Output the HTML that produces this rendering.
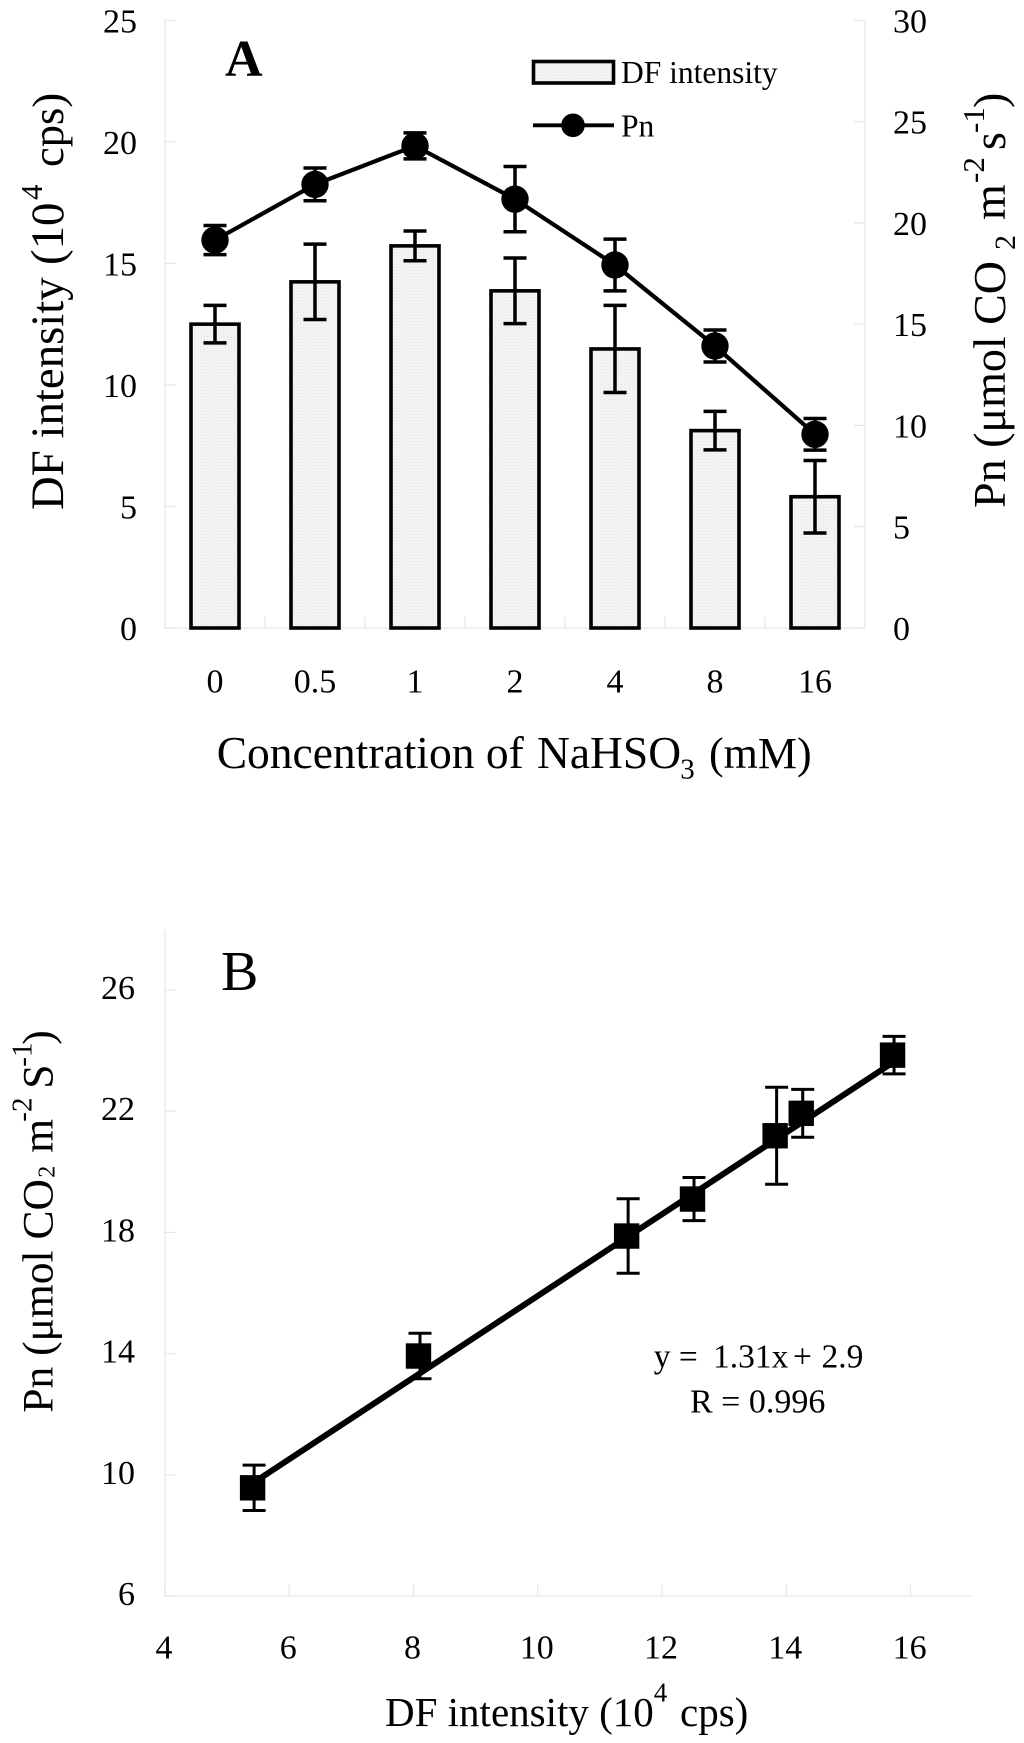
<!DOCTYPE html>
<html lang="en">
<head>
<meta charset="utf-8">
<title>DF intensity and Pn versus NaHSO3 concentration</title>
<style>
html,body{margin:0;padding:0;background:#fff;}
svg{display:block;filter:blur(0.35px);}
text{font-family:"Liberation Serif","Times New Roman",serif;fill:#000;}
</style>
</head>
<body>
<svg id="figure" xmlns="http://www.w3.org/2000/svg" width="1024" height="1743" viewBox="0 0 1024 1743">
  <defs>
    <pattern id="dots" width="3" height="3" patternUnits="userSpaceOnUse">
      <rect width="3" height="3" fill="#f3f3f3"/>
      <rect width="1" height="1" fill="#e6e6e6"/>
    </pattern>
  </defs>
  <g id="panelA">
    <text x="225" y="76" font-size="52" font-weight="bold">A</text>
    <text font-size="45.5" y="768"><tspan x="216.7">Concentration of</tspan><tspan x="537">NaHSO</tspan><tspan x="680.3" y="778.3" font-size="29">3</tspan><tspan x="709" y="768" font-size="44">(mM)</tspan></text>
    <text font-size="46.8" transform="translate(63,510) rotate(-90)" y="0"><tspan x="0">DF intensity</tspan><tspan x="245">(10</tspan><tspan x="310" y="-21" font-size="31">4</tspan><tspan x="343" y="0" font-size="44.5">cps)</tspan></text>
    <text font-size="46" transform="translate(1005,508) rotate(-90)" y="0"><tspan x="0">Pn (μmol CO</tspan><tspan x="258" y="10" font-size="30">2</tspan><tspan x="288" y="0">m</tspan><tspan x="325" y="-21" font-size="31">-2</tspan><tspan x="358" y="0">s</tspan><tspan x="375" y="-21" font-size="31">-1</tspan><tspan x="400" y="0">)</tspan></text>
    <g>
      <rect x="533.5" y="61.5" width="80" height="21.5" fill="url(#dots)" stroke="#000" stroke-width="3.6"/>
      <text x="621" y="83" font-size="31.5">DF intensity</text>
      <line x1="533" y1="125.3" x2="614" y2="125.3" stroke="#000" stroke-width="3.8"/>
      <circle cx="573" cy="125.3" r="11.8" fill="#000"/>
      <text x="621" y="136.7" font-size="31.5">Pn</text>
    </g>
  </g>
  <g id="panelB">
    <text x="221" y="990" font-size="56">B</text>
    <text font-size="41" y="1726"><tspan x="385">DF intensity (10</tspan><tspan x="653.7" y="1701.7" font-size="27">4</tspan><tspan x="680" y="1726">cps)</tspan></text>
    <text font-size="43.5" transform="translate(52.7,1412.7) rotate(-90)" y="0"><tspan x="0">Pn (μmol CO</tspan><tspan x="235" y="2" font-size="24">2</tspan><tspan x="260" y="0">m</tspan><tspan x="291" y="-21" font-size="29">-2</tspan><tspan x="324" y="0">S</tspan><tspan x="346" y="-21" font-size="29">-1</tspan><tspan x="368" y="0">)</tspan></text>
    <text y="1367.7" font-size="33.5"><tspan x="653.7">y =</tspan><tspan x="713">1.31x</tspan><tspan x="793">+</tspan><tspan x="821.5">2.9</tspan></text>
    <text x="690" y="1412.7" font-size="34">R = 0.996</text>
  </g>
</svg>
<script>
const categories = ['0', '0.5', '1', '2', '4', '8', '16'];
const dfIntensity = [12.5, 14.24, 15.72, 13.87, 11.48, 8.12, 5.4];
const dfError = [0.77, 1.55, 0.61, 1.35, 1.79, 0.79, 1.49];
const pnValues = [19.15, 21.9, 23.8, 21.17, 17.92, 13.92, 9.56];
const pnError = [0.72, 0.81, 0.64, 1.61, 1.28, 0.79, 0.78];
const leftTicks = [0, 5, 10, 15, 20, 25];
const rightTicks = [0, 5, 10, 15, 20, 25, 30];

const scatterX = [5.41, 8.08, 11.43, 12.49, 13.82, 14.24, 15.71];
const scatterY = [9.57, 13.92, 17.88, 19.1, 21.19, 21.93, 23.85];
const scatterYError = [0.75, 0.75, 1.23, 0.71, 1.6, 0.79, 0.62];
const trendX = [5.41, 15.71];
const trendY = [9.72, 23.6];
const xTicksB = [4, 6, 8, 10, 12, 14, 16];
const yTicksB = [6, 10, 14, 18, 22, 26];

const NS = 'http://www.w3.org/2000/svg';
const AXIS = '#e6e6e6';
const panelA = document.getElementById('panelA');
const panelB = document.getElementById('panelB');

function mk(parent, tag, attrs, txt) {
  const n = document.createElementNS(NS, tag);
  for (const k in attrs) n.setAttribute(k, attrs[k]);
  if (txt !== undefined) n.textContent = txt;
  parent.appendChild(n);
  return n;
}

/* Panel A scales */
const aLeft = 165, aRight = 865, aTop = 20.3, aBottom = 628;
function xA(i) { return aLeft + (aRight - aLeft) * (i + 0.5) / categories.length; }
function yL(v) { return aBottom - (aBottom - aTop) * v / 25; }
function yR(v) { return aBottom - (aBottom - aTop) * v / 30; }

/* Panel A axes */
const axisFrameA = mk(panelA, 'path', {
  d: `M${aLeft} ${aTop}V${aBottom}H${aRight}V${aTop}`, fill: 'none', stroke: AXIS, 'stroke-width': 1.2
});



leftTicks.forEach(function (t) {
  const tick = mk(panelA, 'line', { x1: aLeft, x2: aLeft + 11, y1: yL(t), y2: yL(t), stroke: AXIS, 'stroke-width': 1.2 });
  
  
  const lab = mk(panelA, 'text', { x: 137, y: yL(t) + 12, 'font-size': 34, 'text-anchor': 'end' }, String(t));
  
  
});
rightTicks.forEach(function (t) {
  const tick = mk(panelA, 'line', { x1: aRight - 11, x2: aRight, y1: yR(t), y2: yR(t), stroke: AXIS, 'stroke-width': 1.2 });
  
  
  const lab = mk(panelA, 'text', { x: 893, y: yR(t) + 12, 'font-size': 34 }, String(t));
  
  
});
categories.forEach(function (c, i) {
  const bx = xA(i) + 50;
  if (i < categories.length - 1) {
    const tick = mk(panelA, 'line', { x1: bx, x2: bx, y1: aBottom - 11, y2: aBottom, stroke: AXIS, 'stroke-width': 1.2 });
    
    
  }
  const lab = mk(panelA, 'text', { x: xA(i), y: 692.7, 'font-size': 34, 'text-anchor': 'middle' }, c);
  
  
});

/* error bar drawing */
function errorBar(parent, x, yLo, yHi, sw) {
  return mk(parent, 'path', {
    d: `M${x} ${yLo}V${yHi}M${x - 11.5} ${yLo}H${x + 11.5}M${x - 11.5} ${yHi}H${x + 11.5}`,
    fill: 'none', stroke: '#000', 'stroke-width': sw
  });
}

/* Panel A bars */
dfIntensity.forEach(function (v, i) {
  const bar = mk(panelA, 'rect', {
    x: xA(i) - 24, y: yL(v), width: 48, height: aBottom - yL(v),
    fill: 'url(#dots)', stroke: '#000', 'stroke-width': 3.6
  });
  
  
});
dfIntensity.forEach(function (v, i) {
  const eb = errorBar(panelA, xA(i), yL(v + dfError[i]), yL(v - dfError[i]), 3.5);
  
  
});

/* Panel A line */
const pnLine = mk(panelA, 'polyline', {
  points: pnValues.map(function (v, i) { return xA(i) + ',' + yR(v); }).join(' '),
  fill: 'none', stroke: '#000', 'stroke-width': 4.2
});


pnValues.forEach(function (v, i) {
  const eb = errorBar(panelA, xA(i), yR(v + pnError[i]), yR(v - pnError[i]), 3.5);
  
  
  const pt = mk(panelA, 'circle', { cx: xA(i), cy: yR(v), r: 13.7, fill: '#000' });
  
  
});

/* Panel B scales */
const bLeft = 165, bRight = 972.7, bBottom = 1596, bTop = 929.4;
function xB(v) { return bLeft + (bRight - bLeft) * (v - 4) / 13; }
function yB(v) { return bBottom - (bBottom - bTop) * (v - 6) / 22; }

const axisFrameB = mk(panelB, 'path', {
  d: `M${bLeft} ${bTop}V${bBottom}H${bRight}`, fill: 'none', stroke: AXIS, 'stroke-width': 1.2
});



yTicksB.forEach(function (t) {
  const tick = mk(panelB, 'line', { x1: bLeft, x2: bLeft + 11, y1: yB(t), y2: yB(t), stroke: AXIS, 'stroke-width': 1.2 });
  
  
  const lab = mk(panelB, 'text', { x: 135, y: yB(t) + 9, 'font-size': 34, 'text-anchor': 'end' }, String(t));
  
  
});
xTicksB.forEach(function (t) {
  const tick = mk(panelB, 'line', { x1: xB(t), x2: xB(t), y1: bBottom - 11, y2: bBottom, stroke: AXIS, 'stroke-width': 1.2 });
  
  
  const lab = mk(panelB, 'text', { x: xB(t) - 1, y: 1658.3, 'font-size': 34, 'text-anchor': 'middle' }, String(t));
  
  
});

/* Panel B marks */
const trendLine = mk(panelB, 'line', {
  x1: xB(trendX[0]), y1: yB(trendY[0]), x2: xB(trendX[1]), y2: yB(trendY[1]),
  stroke: '#000', 'stroke-width': 6
});


scatterX.forEach(function (v, i) {
  const y = scatterY[i];
  const eb = errorBar(panelB, xB(v) + 1.5, yB(y + scatterYError[i]), yB(y - scatterYError[i]), 3);
  
  
  const pt = mk(panelB, 'rect', { x: xB(v) - 12.7, y: yB(y) - 12.7, width: 25.4, height: 25.4, fill: '#000' });
  
  
});
</script>
</body>
</html>
